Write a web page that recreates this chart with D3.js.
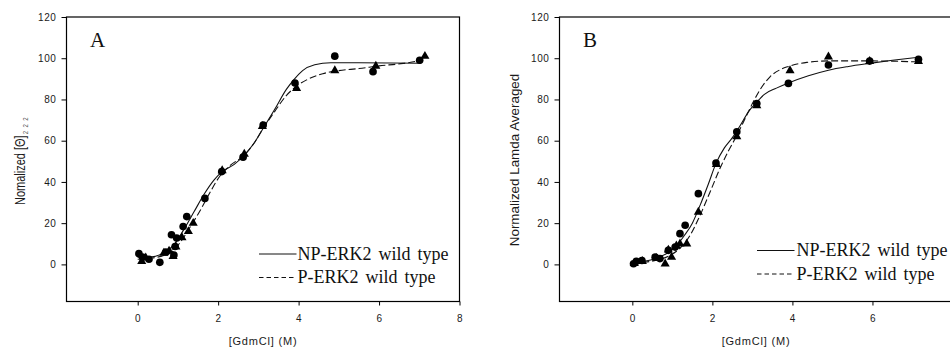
<!DOCTYPE html>
<html><head><meta charset="utf-8">
<script src="https://cdn.jsdelivr.net/npm/d3@7"></script>
<style>
html,body{margin:0;padding:0;background:#fff;}
svg{display:block;}
</style></head>
<body>
<svg id="chart" width="950" height="349"></svg>
<script>
// ---------- data ----------
const xTicksA = [0, 2, 4, 6, 8];
const xTicksB = [0, 2, 4, 6];
const yTicks = [0, 20, 40, 60, 80, 100, 120];
const legendLabels = ["NP-ERK2 wild type", "P-ERK2 wild type"];
const panelLetters = ["A", "B"];
const yLabelA = "Nomalized [\u0398]";
const yLabelASub = "222";
const yLabelB = "Normalized Lamda Averaged";
const xLabel = "[GdmCl] (M)";

// Panel A: NP-ERK2 (circles), P-ERK2 (triangles)
const npPointsA = [[0.03,5.2],[0.12,3.6],[0.28,2.5],[0.55,1.0],[0.7,6.0],[0.9,4.5],[0.84,14.4],[0.97,12.8],[0.93,8.7],[1.13,18.4],[1.22,23.2],[1.67,32],[2.09,45],[2.62,52],[3.12,67.6],[3.91,88],[4.9,101],[5.85,93.5],[7.01,99]];
const pPointsA = [[0.1,1.5],[0.2,3.2],[0.65,5.5],[0.78,6.5],[0.88,3.9],[0.95,8.5],[1.1,13],[1.26,16],[1.38,20],[2.1,45.5],[2.65,53.5],[3.1,67],[3.95,85.4],[4.9,94],[5.92,96.2],[7.14,101]];
const npFitA = [[0,3.5],[0.3,3.6],[0.6,5],[0.9,9.5],[1.15,17],[1.4,25.5],[1.65,34],[1.9,41],[2.1,45],[2.4,48.5],[2.65,53],[2.9,59],[3.12,66],[3.4,75],[3.7,85],[3.9,90],[4.1,94],[4.4,96.8],[4.8,97.8],[5.5,97.8],[7.05,97.6]];
const pFitA = [[0,2.5],[0.3,3],[0.6,4],[0.85,6],[1.05,10.5],[1.3,18],[1.55,26],[1.8,35],[2.05,43],[2.3,48],[2.65,53],[2.9,59],[3.12,66],[3.4,74],[3.7,82],[3.95,86.5],[4.2,89.5],[4.6,92.5],[5,94],[5.5,95],[6,96.3],[6.6,97.5],[7.0,99],[7.14,101]];

// Panel B
const npPointsB = [[0.03,0.3],[0.1,1.5],[0.24,1.9],[0.57,3.5],[0.69,2.8],[0.9,6.8],[1.07,8.4],[1.19,14.9],[1.32,19],[1.65,34.3],[2.09,49.2],[2.61,64.3],[3.11,78],[3.9,87.8],[4.9,96.7],[5.93,98.6],[7.15,99.5]];
const pPointsB = [[0.05,0.5],[0.25,1.5],[0.6,3],[0.82,0.3],[0.9,7],[0.98,3.5],[1.1,9],[1.19,10],[1.36,10],[1.65,25.4],[2.1,48.5],[2.61,62],[3.11,77],[3.94,94],[4.9,100.7],[5.93,98.5],[7.15,98.5]];
const npFitB = [[0,1],[0.3,1.5],[0.6,3],[0.9,5.8],[1.1,9],[1.3,14],[1.5,20],[1.7,29],[1.9,39],[2.09,49],[2.3,56.5],[2.5,61.5],[2.7,67.5],[2.9,74],[3.1,78.5],[3.3,82.5],[3.6,85.5],[3.9,88],[4.4,91.5],[4.9,94.2],[5.4,96],[5.93,97.5],[6.5,99],[7.15,100.5]];
const pFitB = [[0,0.5],[0.3,1],[0.6,2],[0.9,4],[1.2,8],[1.44,14],[1.65,22],[1.94,35],[2.2,47],[2.4,55],[2.61,62.5],[2.8,70],[3.0,78],[3.2,85],[3.44,91],[3.7,94.5],[3.9,96],[4.36,98],[4.9,98.7],[6,98.7],[7.15,98.2]];

// ---------- layout ----------
const svg = d3.select("#chart");
const panels = [
  {letter: panelLetters[0], left: 66.5, right: 459.5, xmin: -1.77, ticks: xTicksA, np: npPointsA, p: pPointsA, npFit: npFitA, pFit: pFitA,
   legendX: 259, legendY: 254, legendTextX: 297.5},
  {letter: panelLetters[1], left: 559.5, right: 952.5, xmin: -1.82, ticks: xTicksB, np: npPointsB, p: pPointsB, npFit: npFitB, pFit: pFitB,
   legendX: 757, legendY: 250.5, legendTextX: 796.5}
];
const plotTop = 17, plotBottom = 301.5;

panels.forEach((P, i) => {
  const x = d3.scaleLinear().domain([P.xmin, 8]).range([P.left, P.right]);
  const y = d3.scaleLinear().domain([-18, 120]).range([plotBottom, plotTop]);
  const g = svg.append("g");

  // frame
  g.append("rect").attr("x", P.left).attr("y", plotTop)
    .attr("width", P.right - P.left).attr("height", plotBottom - plotTop)
    .attr("fill", "none").attr("stroke", "#000").attr("stroke-width", 1.2);

  // axes
  const ya = g.append("g").attr("transform", `translate(${P.left},0)`)
    .call(d3.axisLeft(y).tickValues(yTicks).tickSize(5).tickPadding(5));
  const xa = g.append("g").attr("transform", `translate(0,${plotBottom})`)
    .call(d3.axisBottom(x).tickValues(P.ticks).tickSize(4).tickPadding(9));
  [ya, xa].forEach(a => {
    a.select(".domain").remove();
    a.selectAll("line").attr("stroke", "#000");
    a.selectAll("text").attr("font-family", "Arial, 'Liberation Sans', sans-serif")
      .attr("font-size", 10).attr("fill", "#1a1a1a").attr("letter-spacing", 0.6);
  });

  // fits
  const line = d3.line().x(d => x(d[0])).y(d => y(d[1])).curve(d3.curveMonotoneX);
  g.append("path").datum(P.npFit).attr("d", line).attr("fill", "none")
    .attr("stroke", "#111").attr("stroke-width", 1.1);
  g.append("path").datum(P.pFit).attr("d", line).attr("fill", "none")
    .attr("stroke", "#111").attr("stroke-width", 1.1).attr("stroke-dasharray", "7,3");

  // points
  g.selectAll(".np").data(P.np).enter().append("path")
    .attr("d", d3.symbol(d3.symbolCircle, 46))
    .attr("transform", d => `translate(${x(d[0])},${y(d[1])})`).attr("fill", "#000");
  g.selectAll(".pp").data(P.p).enter().append("path")
    .attr("d", d3.symbol(d3.symbolTriangle, 36))
    .attr("transform", d => `translate(${x(d[0])},${y(d[1])})`).attr("fill", "#000");

  // panel letter
  g.append("text").attr("x", P.left + 23.5).attr("y", 47)
    .attr("font-family", "'Times New Roman', 'Liberation Serif', serif").attr("font-size", 21)
    .attr("fill", "#111").text(P.letter);

  // legend
  legendLabels.forEach((lab, k) => {
    const ly = P.legendY + k * 23.5;
    g.append("line").attr("x1", P.legendX).attr("x2", P.legendX + 37.5)
      .attr("y1", ly).attr("y2", ly).attr("stroke", "#111").attr("stroke-width", 1)
      .attr("stroke-dasharray", k === 1 ? "4.5,3" : null);
    g.append("text").attr("x", P.legendTextX).attr("y", ly + 5.5)
      .attr("font-family", "'Times New Roman', 'Liberation Serif', serif").attr("font-size", 18)
      .attr("word-spacing", 2.5).attr("fill", "#111").text(lab);
  });

  // x label
  g.append("text").attr("x", (P.left + P.right) / 2).attr("y", 345)
    .attr("text-anchor", "middle").attr("font-family", "Arial, 'Liberation Sans', sans-serif")
    .attr("font-size", 11).attr("letter-spacing", 0.8).attr("fill", "#1a1a1a").text(xLabel);
});

// y labels
const yl = svg.append("text").attr("transform", "translate(25,205) rotate(-90) scale(1,1.3)")
  .attr("font-family", "Arial, 'Liberation Sans', sans-serif").attr("font-size", 11).attr("fill", "#1a1a1a");
yl.append("tspan").text(yLabelA);
yl.append("tspan").attr("dy", 2.5).attr("dx", 1).attr("font-size", 6).attr("letter-spacing", 3.5).attr("fill", "#555").text(yLabelASub);

svg.append("text").attr("transform", "translate(519,160) rotate(-90)")
  .attr("text-anchor", "middle").attr("font-family", "Arial, 'Liberation Sans', sans-serif")
  .attr("font-size", 13.4).attr("fill", "#1a1a1a").text(yLabelB);
</script>
</body></html>
